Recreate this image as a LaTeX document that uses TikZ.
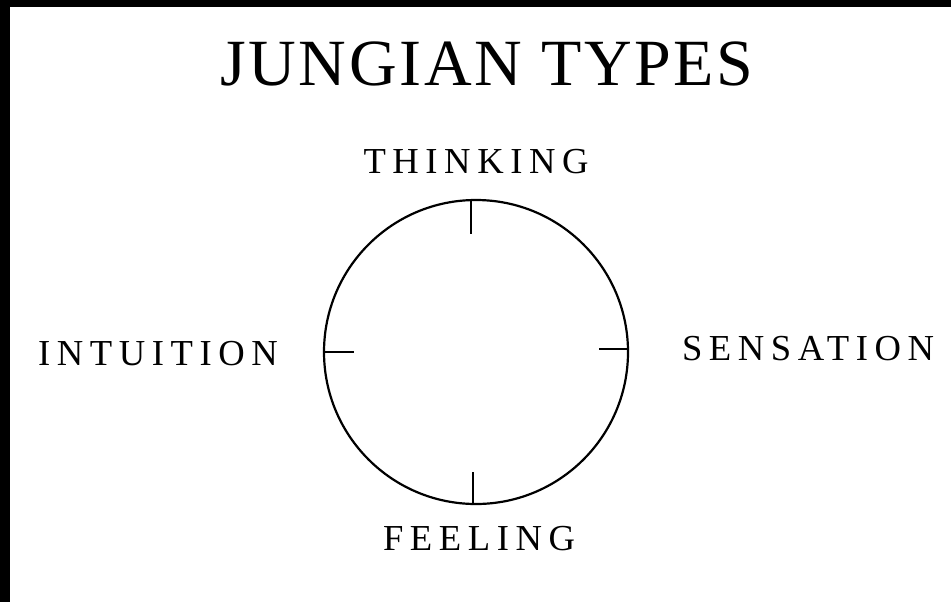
\documentclass[tikz,border=0pt]{standalone}
\usepackage{fontspec}
\setmainfont{Liberation Serif}
\newfontfamily\typefont[LetterSpace=18]{Liberation Serif}
\newfontfamily\headfont[LetterSpace=4]{Liberation Serif}
\usetikzlibrary{positioning}
\tikzset{
  type-lbl/.style={font=\typefont\fontsize{18.3}{20}\selectfont,anchor=base,inner sep=0pt,text=black},
  type-head/.style={font=\headfont\fontsize{33}{36}\selectfont,anchor=base,inner sep=0pt,text=black},
  wheel/.style={draw,circle,line width=1.1pt,minimum size=152pt,inner sep=0pt},
  axtick/.style={line width=1.1pt},
  frameband/.style={fill=black,draw=none},
}

\begin{document}
\begin{tikzpicture}[x=0.5pt,y=0.5pt]

  \fill[white] (0,0) rectangle (951,602);
  \useasboundingbox (0,0) rectangle (951,602);
  \fill[frameband] (0,595) rectangle (951,602);
  \fill[frameband] (0,0)   rectangle (10,602);

  % title
  \node[type-head] (head) at (487,517) {JUNGIAN TYPES};

  % wheel and its four ticks
  \node[wheel] (psyche) at (476,250) {};
  \draw[axtick] (psyche.92.3)  -- ++(0,-35);
  \draw[axtick] (psyche.269.6) -- ++(0,33);
  \draw[axtick] (psyche.180.4) -- ++(31,0);
  \draw[axtick] (psyche.1.5)   -- ++(-30,0);

  % functions
  \node[type-lbl] (think)  at (476,429) {THINKING};
  \node[type-lbl] (intu)   at (158,237) {INTUITION};
  \node[type-lbl] (sens)   at (808,242) {SENSATION};
  \node[type-lbl] (feel)   at (479,52)  {FEELING};

\end{tikzpicture}
\end{document}
